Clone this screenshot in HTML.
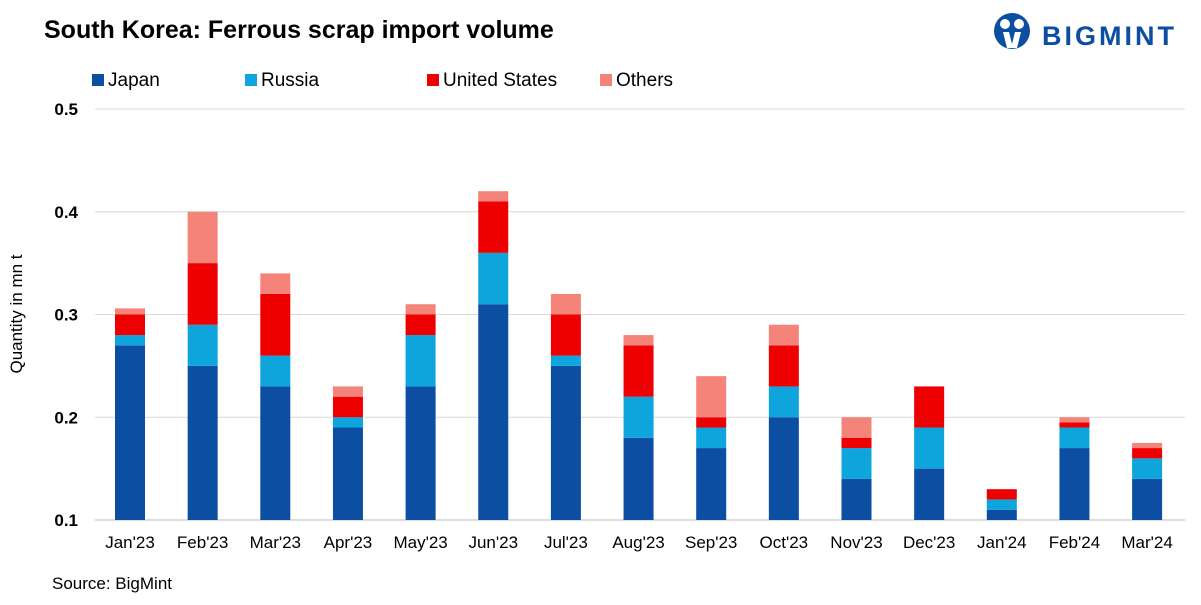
<!DOCTYPE html>
<html><head><meta charset="utf-8"><style>
body{margin:0;background:#fff;width:1201px;height:600px;overflow:hidden;font-family:"Liberation Sans",sans-serif}
</style></head><body>
<svg id="c" width="1201" height="600" xmlns="http://www.w3.org/2000/svg">
<text x="44" y="38" font-size="25" font-weight="bold" fill="#000">South Korea: Ferrous scrap import volume</text>
<g>
<circle cx="1012" cy="31" r="18" fill="#0b4ea2"/>
<circle cx="1005" cy="24" r="5" fill="#fff"/><circle cx="1019" cy="24" r="5" fill="#fff"/>
<path d="M1003 32 L1009 32 L1012 44 L1015 32 L1021 32 L1017 48 L1007 48 Z" fill="#fff"/>
<text x="1042" y="45" font-size="27" font-weight="bold" fill="#0b4ea2" letter-spacing="3">BIGMINT</text>
</g>
<g id="legend"></g>
<text transform="translate(22,314) rotate(-90)" text-anchor="middle" font-size="17" fill="#000">Quantity in mn t</text>
<g id="grid"></g><g id="bars"></g><g id="xl"></g>
<text x="52" y="589" font-size="17" fill="#000">Source: BigMint</text>
</svg>
<script>
const categories=["Jan'23","Feb'23","Mar'23","Apr'23","May'23","Jun'23","Jul'23","Aug'23","Sep'23","Oct'23","Nov'23","Dec'23","Jan'24","Feb'24","Mar'24"];
const japan=[0.27,0.25,0.23,0.19,0.23,0.31,0.25,0.18,0.17,0.20,0.14,0.15,0.11,0.17,0.14];
const russia=[0.01,0.04,0.03,0.01,0.05,0.05,0.01,0.04,0.02,0.03,0.03,0.04,0.01,0.02,0.02];
const us=[0.02,0.06,0.06,0.02,0.02,0.05,0.04,0.05,0.01,0.04,0.01,0.04,0.01,0.005,0.01];
const others=[0.006,0.05,0.02,0.01,0.01,0.01,0.02,0.01,0.04,0.02,0.02,0,0,0.005,0.005];
const yTicks=[0.1,0.2,0.3,0.4,0.5];
const seriesNames=["Japan","Russia","United States","Others"];
const NS="http://www.w3.org/2000/svg";
const colors=["#0b4ea2","#0ea5dc","#ee0000","#f4847a"];
const y0=520,yTop=109,vMin=0.1,vMax=0.5;
const y=v=>y0-(Math.max(v,vMin)-vMin)/(vMax-vMin)*(y0-yTop);
const x=i=>130+i*72.65;
function mk(t,a,p){const e=document.createElementNS(NS,t);for(const k in a)e.setAttribute(k,a[k]);p.appendChild(e);return e;}
const grid=document.getElementById('grid');
yTicks.forEach(v=>{
 const l=mk('line',{x1:95,x2:1185,y1:y(v),y2:y(v),stroke:v===0.1?'#bbb':'#d9d9d9','stroke-width':1},grid);
 
 
 const t=mk('text',{x:78,y:y(v)+6,'text-anchor':'end','font-size':17,'font-weight':'bold'},grid);
 t.textContent=v.toFixed(1);
 
 
});
const series=[japan,russia,us,others];
const bars=document.getElementById('bars');
categories.forEach((c,i)=>{
 let base=0;
 series.forEach((s,k)=>{
  const v=s[i]; if(v<=0) return;
  const r=mk('rect',{x:x(i)-15,width:30,y:y(base+v),height:y(base)-y(base+v),fill:colors[k]},bars);
  
  
  base+=v;
 });
 const t=mk('text',{x:x(i),y:548,'text-anchor':'middle','font-size':17},document.getElementById('xl'));
 t.textContent=c;
 
 
});
const lg=document.getElementById('legend');
const lx=[92,245,427,600];
seriesNames.forEach((n,k)=>{
 const g=mk('g',{},lg);
 
 
 mk('rect',{x:lx[k],y:74,width:12,height:12,fill:colors[k]},g);
 const t=mk('text',{x:lx[k]+16,y:86,'font-size':19},g);t.textContent=n;
});
</script>
</body></html>
